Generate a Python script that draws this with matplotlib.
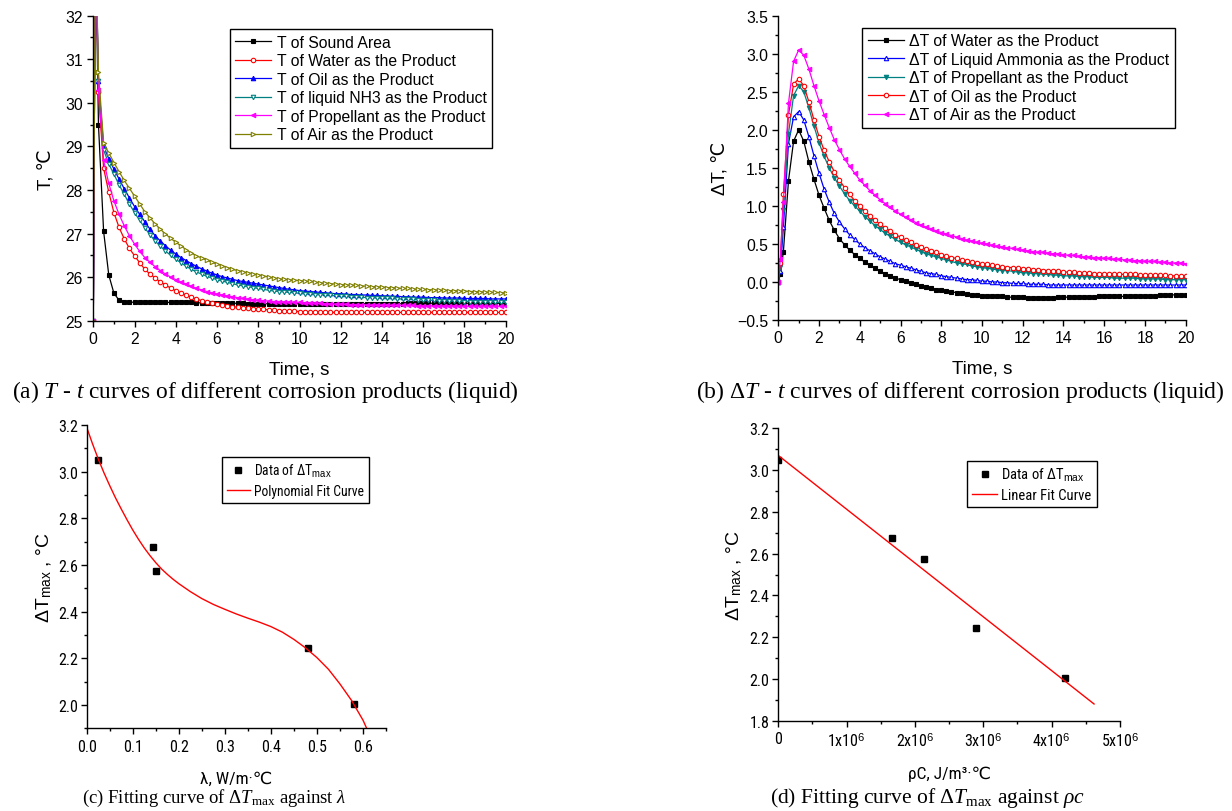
"""Four-panel figure: T-t and dT-t curves, and fits of dT_max against lambda and rho*c."""

import matplotlib

matplotlib.use("Agg")
import matplotlib.pyplot as plt
import numpy as np
from matplotlib.ticker import FixedLocator, MultipleLocator

W, H = 1232, 812

SANS = ["Liberation Sans", "DejaVu Sans"]
NARROW = ["DejaVu Sans Condensed", "Roboto Condensed", "Open Sans Condensed",
          "Liberation Sans", "DejaVu Sans"]
SERIF = ["Liberation Serif", "DejaVu Serif"]

plt.rcParams["font.family"] = SANS
plt.rcParams["mathtext.fontset"] = "custom"
plt.rcParams["mathtext.rm"] = "Liberation Serif"
plt.rcParams["mathtext.it"] = "Liberation Serif:italic"
plt.rcParams["mathtext.sf"] = "Liberation Sans"

# --- data -------------------------------------------------------------------
# sampling times (s): start, one early sample, then every 0.25 s up to 20 s
time_s = np.concatenate([[0.0, 0.1], np.arange(1, 81) * 0.25])

# (a) temperature, degC
t_sound = [25.0, 34.0,
           29.5, 27.05, 26.05, 25.63, 25.47, 25.44, 25.43, 25.42,
           25.42, 25.42, 25.42, 25.42, 25.42, 25.42, 25.42, 25.42,
           25.42, 25.42, 25.42, 25.41, 25.41, 25.41, 25.41, 25.41,
           25.41, 25.41, 25.40, 25.40, 25.40, 25.39, 25.39, 25.39,
           25.39, 25.39, 25.39, 25.39, 25.39, 25.39, 25.39, 25.39,
           25.39, 25.39, 25.39, 25.39, 25.39, 25.39, 25.39, 25.39,
           25.39, 25.39, 25.39, 25.39, 25.39, 25.39, 25.39, 25.39,
           25.39, 25.39, 25.39, 25.39, 25.40, 25.40, 25.40, 25.40,
           25.40, 25.40, 25.40, 25.40, 25.40, 25.40, 25.40, 25.40,
           25.40, 25.40, 25.40, 25.40, 25.40, 25.40, 25.40, 25.40]
t_water = [25.0, 34.0,
           30.25, 28.5, 27.95, 27.48, 27.14, 26.88, 26.66, 26.49,
           26.33, 26.18, 26.07, 25.98, 25.89, 25.82, 25.75, 25.69,
           25.64, 25.59, 25.54, 25.50, 25.46, 25.43, 25.40, 25.38,
           25.36, 25.34, 25.32, 25.31, 25.30, 25.29, 25.28, 25.27,
           25.26, 25.25, 25.24, 25.23, 25.23, 25.22, 25.22, 25.21,
           25.21, 25.20, 25.20, 25.20, 25.20, 25.19, 25.19, 25.19,
           25.19, 25.19, 25.19, 25.19, 25.19, 25.19, 25.19, 25.19,
           25.19, 25.19, 25.19, 25.19, 25.19, 25.19, 25.19, 25.19,
           25.19, 25.19, 25.19, 25.19, 25.19, 25.19, 25.19, 25.19,
           25.19, 25.19, 25.19, 25.19, 25.19, 25.19, 25.19, 25.19]
t_oil = [25.0, 34.0,
         30.5, 29.0, 28.72, 28.48, 28.25, 28.03, 27.82, 27.62,
         27.44, 27.27, 27.10, 26.95, 26.83, 26.72, 26.62, 26.53,
         26.45, 26.38, 26.31, 26.25, 26.19, 26.14, 26.09, 26.05,
         26.01, 25.98, 25.95, 25.92, 25.90, 25.88, 25.86, 25.84,
         25.82, 25.80, 25.78, 25.76, 25.74, 25.72, 25.71, 25.69,
         25.68, 25.67, 25.66, 25.65, 25.64, 25.63, 25.62, 25.62,
         25.61, 25.60, 25.60, 25.59, 25.59, 25.58, 25.58, 25.57,
         25.57, 25.56, 25.56, 25.55, 25.55, 25.54, 25.54, 25.54,
         25.53, 25.53, 25.53, 25.52, 25.52, 25.52, 25.52, 25.51,
         25.51, 25.51, 25.51, 25.51, 25.50, 25.50, 25.50, 25.50]
t_nh3 = [25.0, 34.0,
         30.5, 28.92, 28.60, 28.36, 28.12, 27.90, 27.68, 27.48,
         27.30, 27.13, 26.97, 26.83, 26.71, 26.60, 26.50, 26.41,
         26.33, 26.25, 26.18, 26.12, 26.07, 26.02, 25.98, 25.94,
         25.91, 25.88, 25.85, 25.82, 25.80, 25.78, 25.76, 25.74,
         25.72, 25.70, 25.68, 25.67, 25.66, 25.65, 25.64, 25.63,
         25.62, 25.61, 25.60, 25.60, 25.59, 25.58, 25.57, 25.57,
         25.56, 25.55, 25.55, 25.54, 25.53, 25.53, 25.52, 25.52,
         25.51, 25.51, 25.50, 25.50, 25.49, 25.49, 25.48, 25.48,
         25.47, 25.47, 25.46, 25.46, 25.45, 25.45, 25.45, 25.44,
         25.44, 25.44, 25.43, 25.43, 25.43, 25.42, 25.42, 25.42]
t_prop = [25.0, 34.0,
          30.3, 28.68, 28.15, 27.75, 27.44, 27.18, 26.95, 26.76,
          26.59, 26.45, 26.34, 26.24, 26.15, 26.07, 26.00, 25.94,
          25.89, 25.84, 25.79, 25.74, 25.71, 25.67, 25.64, 25.61,
          25.59, 25.57, 25.55, 25.53, 25.51, 25.50, 25.48, 25.47,
          25.46, 25.45, 25.44, 25.44, 25.43, 25.43, 25.42, 25.42,
          25.41, 25.41, 25.40, 25.40, 25.39, 25.39, 25.38, 25.38,
          25.38, 25.37, 25.37, 25.37, 25.36, 25.36, 25.36, 25.36,
          25.36, 25.35, 25.35, 25.35, 25.35, 25.35, 25.34, 25.34,
          25.34, 25.34, 25.34, 25.34, 25.34, 25.34, 25.33, 25.33,
          25.33, 25.33, 25.33, 25.33, 25.33, 25.33, 25.33, 25.33]
t_air = [25.0, 34.0,
         30.7, 29.08, 28.85, 28.63, 28.42, 28.22, 28.04, 27.86,
         27.68, 27.50, 27.36, 27.22, 27.10, 26.99, 26.89, 26.80,
         26.72, 26.63, 26.56, 26.49, 26.44, 26.39, 26.34, 26.30,
         26.26, 26.22, 26.18, 26.15, 26.12, 26.10, 26.07, 26.05,
         26.03, 26.00, 25.98, 25.96, 25.95, 25.94, 25.93, 25.92,
         25.91, 25.90, 25.88, 25.87, 25.86, 25.85, 25.84, 25.83,
         25.82, 25.82, 25.81, 25.80, 25.79, 25.78, 25.78, 25.77,
         25.76, 25.76, 25.75, 25.74, 25.74, 25.73, 25.72, 25.72,
         25.71, 25.71, 25.70, 25.70, 25.69, 25.69, 25.68, 25.68,
         25.67, 25.67, 25.66, 25.66, 25.65, 25.65, 25.64, 25.64]

# (b) temperature difference, degC
dt_water = [0.0, 0.10,
            0.40, 1.33, 1.85, 2.00, 1.85, 1.58, 1.35, 1.14,
            0.97, 0.81, 0.68, 0.57, 0.49, 0.42, 0.36, 0.31,
            0.26, 0.22, 0.18, 0.14, 0.11, 0.08, 0.05, 0.03,
            0.01, -0.01, -0.03, -0.05, -0.07, -0.08, -0.10, -0.11,
            -0.12, -0.13, -0.14, -0.15, -0.16, -0.17, -0.17, -0.18,
            -0.18, -0.19, -0.19, -0.19, -0.20, -0.20, -0.20, -0.20,
            -0.21, -0.21, -0.21, -0.21, -0.21, -0.21, -0.20, -0.20,
            -0.20, -0.20, -0.20, -0.20, -0.20, -0.20, -0.19, -0.19,
            -0.19, -0.19, -0.19, -0.19, -0.19, -0.18, -0.18, -0.18,
            -0.18, -0.18, -0.17, -0.17, -0.17, -0.17, -0.17, -0.17]
dt_ammonia = [0.0, 0.15,
              0.72, 1.82, 2.17, 2.24, 2.13, 1.91, 1.66, 1.43,
              1.22, 1.05, 0.90, 0.79, 0.70, 0.62, 0.56, 0.50,
              0.45, 0.41, 0.37, 0.33, 0.30, 0.27, 0.24, 0.22,
              0.20, 0.18, 0.16, 0.14, 0.12, 0.11, 0.10, 0.08,
              0.07, 0.06, 0.05, 0.04, 0.03, 0.03, 0.02, 0.01,
              0.01, 0.00, 0.00, -0.01, -0.01, -0.02, -0.02, -0.02,
              -0.03, -0.03, -0.03, -0.03, -0.04, -0.04, -0.04, -0.04,
              -0.04, -0.04, -0.04, -0.04, -0.04, -0.04, -0.04, -0.04,
              -0.04, -0.04, -0.04, -0.04, -0.04, -0.04, -0.04, -0.04,
              -0.04, -0.04, -0.04, -0.04, -0.04, -0.04, -0.04, -0.04]
dt_prop = [0.0, 0.20,
           0.95, 1.95, 2.45, 2.58, 2.50, 2.29, 2.05, 1.83,
           1.65, 1.50, 1.37, 1.26, 1.16, 1.07, 1.00, 0.93,
           0.86, 0.80, 0.74, 0.69, 0.64, 0.60, 0.56, 0.52,
           0.49, 0.46, 0.43, 0.40, 0.37, 0.35, 0.33, 0.31,
           0.29, 0.27, 0.25, 0.24, 0.23, 0.21, 0.20, 0.19,
           0.18, 0.17, 0.16, 0.15, 0.15, 0.14, 0.13, 0.12,
           0.12, 0.11, 0.11, 0.10, 0.10, 0.09, 0.09, 0.08,
           0.08, 0.08, 0.07, 0.07, 0.07, 0.06, 0.06, 0.06,
           0.06, 0.05, 0.05, 0.05, 0.05, 0.05, 0.04, 0.04,
           0.04, 0.04, 0.04, 0.03, 0.03, 0.03, 0.03, 0.03]
dt_oil = [0.0, 0.25,
          1.15, 2.20, 2.60, 2.67, 2.58, 2.37, 2.13, 1.91,
          1.73, 1.58, 1.45, 1.34, 1.24, 1.15, 1.07, 1.00,
          0.93, 0.87, 0.81, 0.76, 0.71, 0.67, 0.62, 0.59,
          0.55, 0.52, 0.49, 0.46, 0.43, 0.41, 0.39, 0.36,
          0.34, 0.32, 0.31, 0.29, 0.28, 0.26, 0.25, 0.24,
          0.23, 0.22, 0.21, 0.20, 0.19, 0.19, 0.18, 0.17,
          0.17, 0.16, 0.16, 0.15, 0.15, 0.14, 0.14, 0.13,
          0.13, 0.13, 0.12, 0.12, 0.12, 0.11, 0.11, 0.11,
          0.11, 0.10, 0.10, 0.10, 0.10, 0.10, 0.09, 0.09,
          0.09, 0.09, 0.09, 0.09, 0.08, 0.08, 0.08, 0.08]
dt_air = [0.0, 0.30,
          1.05, 2.35, 2.90, 3.05, 2.98, 2.80, 2.58, 2.38,
          2.20, 2.03, 1.87, 1.74, 1.62, 1.52, 1.43, 1.34,
          1.27, 1.20, 1.14, 1.08, 1.03, 0.98, 0.93, 0.89,
          0.85, 0.82, 0.78, 0.75, 0.72, 0.70, 0.67, 0.65,
          0.63, 0.61, 0.59, 0.57, 0.55, 0.54, 0.52, 0.51,
          0.50, 0.48, 0.47, 0.46, 0.45, 0.44, 0.43, 0.42,
          0.41, 0.40, 0.39, 0.39, 0.38, 0.37, 0.37, 0.36,
          0.35, 0.35, 0.34, 0.33, 0.33, 0.32, 0.32, 0.31,
          0.31, 0.30, 0.30, 0.29, 0.29, 0.28, 0.28, 0.27,
          0.27, 0.27, 0.26, 0.26, 0.25, 0.25, 0.25, 0.24]

# (c) dT_max against thermal conductivity
lam = [0.024, 0.145, 0.150, 0.480, 0.580]
dt_max_lam = [3.05, 2.675, 2.575, 2.245, 2.005]
lam_fit = [0.0, 0.0125, 0.025, 0.0375, 0.05, 0.0625, 0.075, 0.0875, 0.1,
           0.1125, 0.125, 0.1375, 0.15, 0.1625, 0.175, 0.1875, 0.2, 0.225,
           0.25, 0.275, 0.3, 0.325, 0.35, 0.375, 0.4, 0.425, 0.45, 0.475,
           0.5, 0.525, 0.55, 0.575, 0.6, 0.608]
dt_fit_lam = [3.19, 3.12, 3.055, 2.995, 2.94, 2.888, 2.84, 2.794, 2.75,
              2.71, 2.673, 2.64, 2.61, 2.583, 2.56, 2.539, 2.52, 2.486,
              2.456, 2.431, 2.41, 2.39, 2.372, 2.355, 2.336, 2.312, 2.281,
              2.245, 2.203, 2.153, 2.09, 2.02, 1.935, 1.90]

# (d) dT_max against volumetric heat capacity
rho_c = [0.0, 1.67e6, 2.13e6, 2.90e6, 4.20e6]
dt_max_rhoc = [3.05, 2.675, 2.575, 2.245, 2.005]
rho_c_fit = [0.0, 4.62e6]
dt_fit_rhoc = [3.07, 1.88]

xtick_rhoc = [0, 1e6, 2e6, 3e6, 4e6, 5e6]
xtick_rhoc_labels = ["0"] + [rf"{k}x10$^{{\mathsf{{6}}}}$" for k in range(1, 6)]


# --- helpers ----------------------------------------------------------------
def add_axes_px(fig, left, top, right, bottom):
    """Add axes from pixel edges measured from the top-left corner."""
    return fig.add_axes(
        [left / W, 1 - bottom / H, (right - left) / W, (bottom - top) / H]
    )


def style_axes(ax, labelsize=11.3, family=None, ypad=3):
    for side in ("top", "right"):
        ax.spines[side].set_visible(False)
    for side in ("left", "bottom"):
        ax.spines[side].set_linewidth(1.0)
    ax.tick_params(which="both", direction="out", width=1.0, labelsize=labelsize)
    ax.tick_params(which="major", length=4.5, pad=3)
    ax.tick_params(which="minor", length=2.5)
    ax.tick_params(axis="y", which="major", pad=ypad)
    if family:
        for lbl in ax.get_xticklabels() + ax.get_yticklabels():
            lbl.set_family(family)


def frame_legend(leg):
    frame = leg.get_frame()
    frame.set_edgecolor("black")
    frame.set_linewidth(1.0)
    frame.set_boxstyle("square", pad=0)


def caption(fig, x, y, text, size):
    fig.text(x / W, 1 - y / H, text, family=SERIF, fontsize=size,
             ha="left", va="center")


fig = plt.figure(figsize=(W / 100, H / 100), dpi=100)
mk = dict(ms=3.2, mew=0.8, lw=0.9)
leg_kw = dict(fontsize=11.3, handlelength=2.3, handletextpad=0.35,
              labelspacing=0.22, borderpad=0.35, borderaxespad=0,
              fancybox=False, framealpha=1)


def fit_legend_kw(size):
    return dict(handlelength=1.7, handletextpad=0.3, labelspacing=0.35,
                borderpad=0.35, borderaxespad=0, fancybox=False,
                framealpha=1, prop={"family": NARROW, "size": size})


# --- (a) --------------------------------------------------------------------
ax1 = add_axes_px(fig, 93.3, 16.7, 505.7, 321.7)
series_a = [
    ("T of Sound Area", t_sound, "black", "s", "black"),
    ("T of Water as the Product", t_water, "red", "o", "white"),
    ("T of Oil as the Product", t_oil, "blue", "^", "blue"),
    ("T of liquid NH3 as the Product", t_nh3, "#008080", "v", "white"),
    ("T of Propellant as the Product", t_prop, "magenta", "<", "magenta"),
    ("T of Air as the Product", t_air, "#808000", ">", "white"),
]
for label, vals, color, marker, face in series_a:
    ax1.plot(time_s, vals, color=color, marker=marker, mfc=face, mec=color,
             label=label, **mk)
ax1.set_xlim(0, 20)
ax1.set_ylim(25, 32)
ax1.xaxis.set_major_locator(MultipleLocator(2))
ax1.xaxis.set_minor_locator(MultipleLocator(1))
ax1.yaxis.set_major_locator(MultipleLocator(1))
ax1.yaxis.set_minor_locator(MultipleLocator(0.5))
style_axes(ax1)
ax1.set_xlabel("Time, s", fontsize=13.5, labelpad=10)
ax1.set_ylabel("T, ℃", fontsize=13.5, labelpad=8)
leg = ax1.legend(loc="upper right", bbox_to_anchor=(0.967, 0.955), **leg_kw)
frame_legend(leg)

# --- (b) --------------------------------------------------------------------
ax2 = add_axes_px(fig, 778.3, 16.7, 1185.7, 321.0)
series_b = [
    ("ΔT of Water as the Product", dt_water, "black", "s", "black"),
    ("ΔT of Liquid Ammonia as the Product", dt_ammonia, "blue", "^", "white"),
    ("ΔT of Propellant as the Product", dt_prop, "#008080", "v", "#008080"),
    ("ΔT of Oil as the Product", dt_oil, "red", "o", "white"),
    ("ΔT of Air as the Product", dt_air, "magenta", "<", "magenta"),
]
for label, vals, color, marker, face in series_b:
    ax2.plot(time_s, vals, color=color, marker=marker, mfc=face, mec=color,
             label=label, **mk)
ax2.set_xlim(0, 20)
ax2.set_ylim(-0.5, 3.5)
ax2.xaxis.set_major_locator(MultipleLocator(2))
ax2.xaxis.set_minor_locator(MultipleLocator(1))
ax2.yaxis.set_major_locator(MultipleLocator(0.5))
ax2.yaxis.set_minor_locator(MultipleLocator(0.25))
ax2.yaxis.set_major_formatter("{x:.1f}")
style_axes(ax2)
ax2.set_xlabel("Time, s", fontsize=13.5, labelpad=10)
ax2.set_ylabel("ΔT, ℃", fontsize=13.5, labelpad=6)
leg = ax2.legend(loc="upper right", bbox_to_anchor=(0.974, 0.96), **leg_kw)
frame_legend(leg)

# --- (c) --------------------------------------------------------------------
ax3 = add_axes_px(fig, 86.7, 426.0, 386.0, 729.3)
pts, = ax3.plot(lam, dt_max_lam, "s", color="black", ms=5,
                label=r"Data of ΔT$_{\mathsf{max}}$")
fit, = ax3.plot(lam_fit, dt_fit_lam, color="red", lw=1.0,
                label="Polynomial Fit Curve")
ax3.set_xlim(0, 0.65)
ax3.set_ylim(1.9, 3.2)
ax3.xaxis.set_major_locator(MultipleLocator(0.1))
ax3.xaxis.set_minor_locator(MultipleLocator(0.05))
ax3.yaxis.set_major_locator(FixedLocator([2.0, 2.2, 2.4, 2.6, 2.8, 3.0, 3.2]))
ax3.yaxis.set_minor_locator(MultipleLocator(0.1))
ax3.xaxis.set_major_formatter("{x:.1f}")
ax3.yaxis.set_major_formatter("{x:.1f}")
style_axes(ax3, labelsize=11.5, family=NARROW, ypad=1.5)
ax3.set_xlabel("λ, W/m·℃", fontsize=12.5, family=NARROW, labelpad=12)
ax3.set_ylabel(r"ΔT$_{\mathsf{max}}$ , °C", fontsize=14, labelpad=3)
leg = ax3.legend(handles=[pts, fit], loc="upper right",
                 bbox_to_anchor=(0.942, 0.893), **fit_legend_kw(9.8))
frame_legend(leg)

# --- (d) --------------------------------------------------------------------
ax4 = add_axes_px(fig, 778.3, 429.3, 1120.0, 721.7)
pts, = ax4.plot(rho_c, dt_max_rhoc, "s", color="black", ms=4.5,
                label=r"Data of ΔT$_{\mathsf{max}}$")
fit, = ax4.plot(rho_c_fit, dt_fit_rhoc, color="red", lw=1.0,
                label="Linear Fit Curve")
ax4.set_xlim(0, 5e6)
ax4.set_ylim(1.8, 3.2)
ax4.xaxis.set_major_locator(FixedLocator(xtick_rhoc))
ax4.xaxis.set_minor_locator(MultipleLocator(0.5e6))
ax4.set_xticklabels(xtick_rhoc_labels)
ax4.yaxis.set_major_locator(MultipleLocator(0.2))
ax4.yaxis.set_minor_locator(MultipleLocator(0.1))
ax4.yaxis.set_major_formatter("{x:.1f}")
style_axes(ax4, labelsize=11.5, family=NARROW, ypad=2)
ax4.set_xlabel("ρC, J/m³·℃", fontsize=12.5, family=NARROW, labelpad=12)
ax4.set_ylabel(r"ΔT$_{\mathsf{max}}$ , °C", fontsize=14, labelpad=4)
leg = ax4.legend(handles=[pts, fit], loc="upper right",
                 bbox_to_anchor=(0.932, 0.889), **fit_legend_kw(10.5))
frame_legend(leg)

# --- captions ---------------------------------------------------------------
caption(fig, 12, 392, r"(a) $\mathit{T}$ - $\mathit{t}$ curves of different corrosion products (liquid)", 16.8)
caption(fig, 696, 392, r"(b) Δ$\mathit{T}$ - $\mathit{t}$ curves of different corrosion products (liquid)", 17.0)
caption(fig, 82, 798, r"(c) Fitting curve of Δ$\mathit{T}_{\mathrm{max}}$ against $\mathit{λ}$", 13.5)
caption(fig, 770, 798, r"(d) Fitting curve of Δ$\mathit{T}_{\mathrm{max}}$ against $\mathit{ρc}$", 15.5)

fig.savefig("out.png", dpi=100)
